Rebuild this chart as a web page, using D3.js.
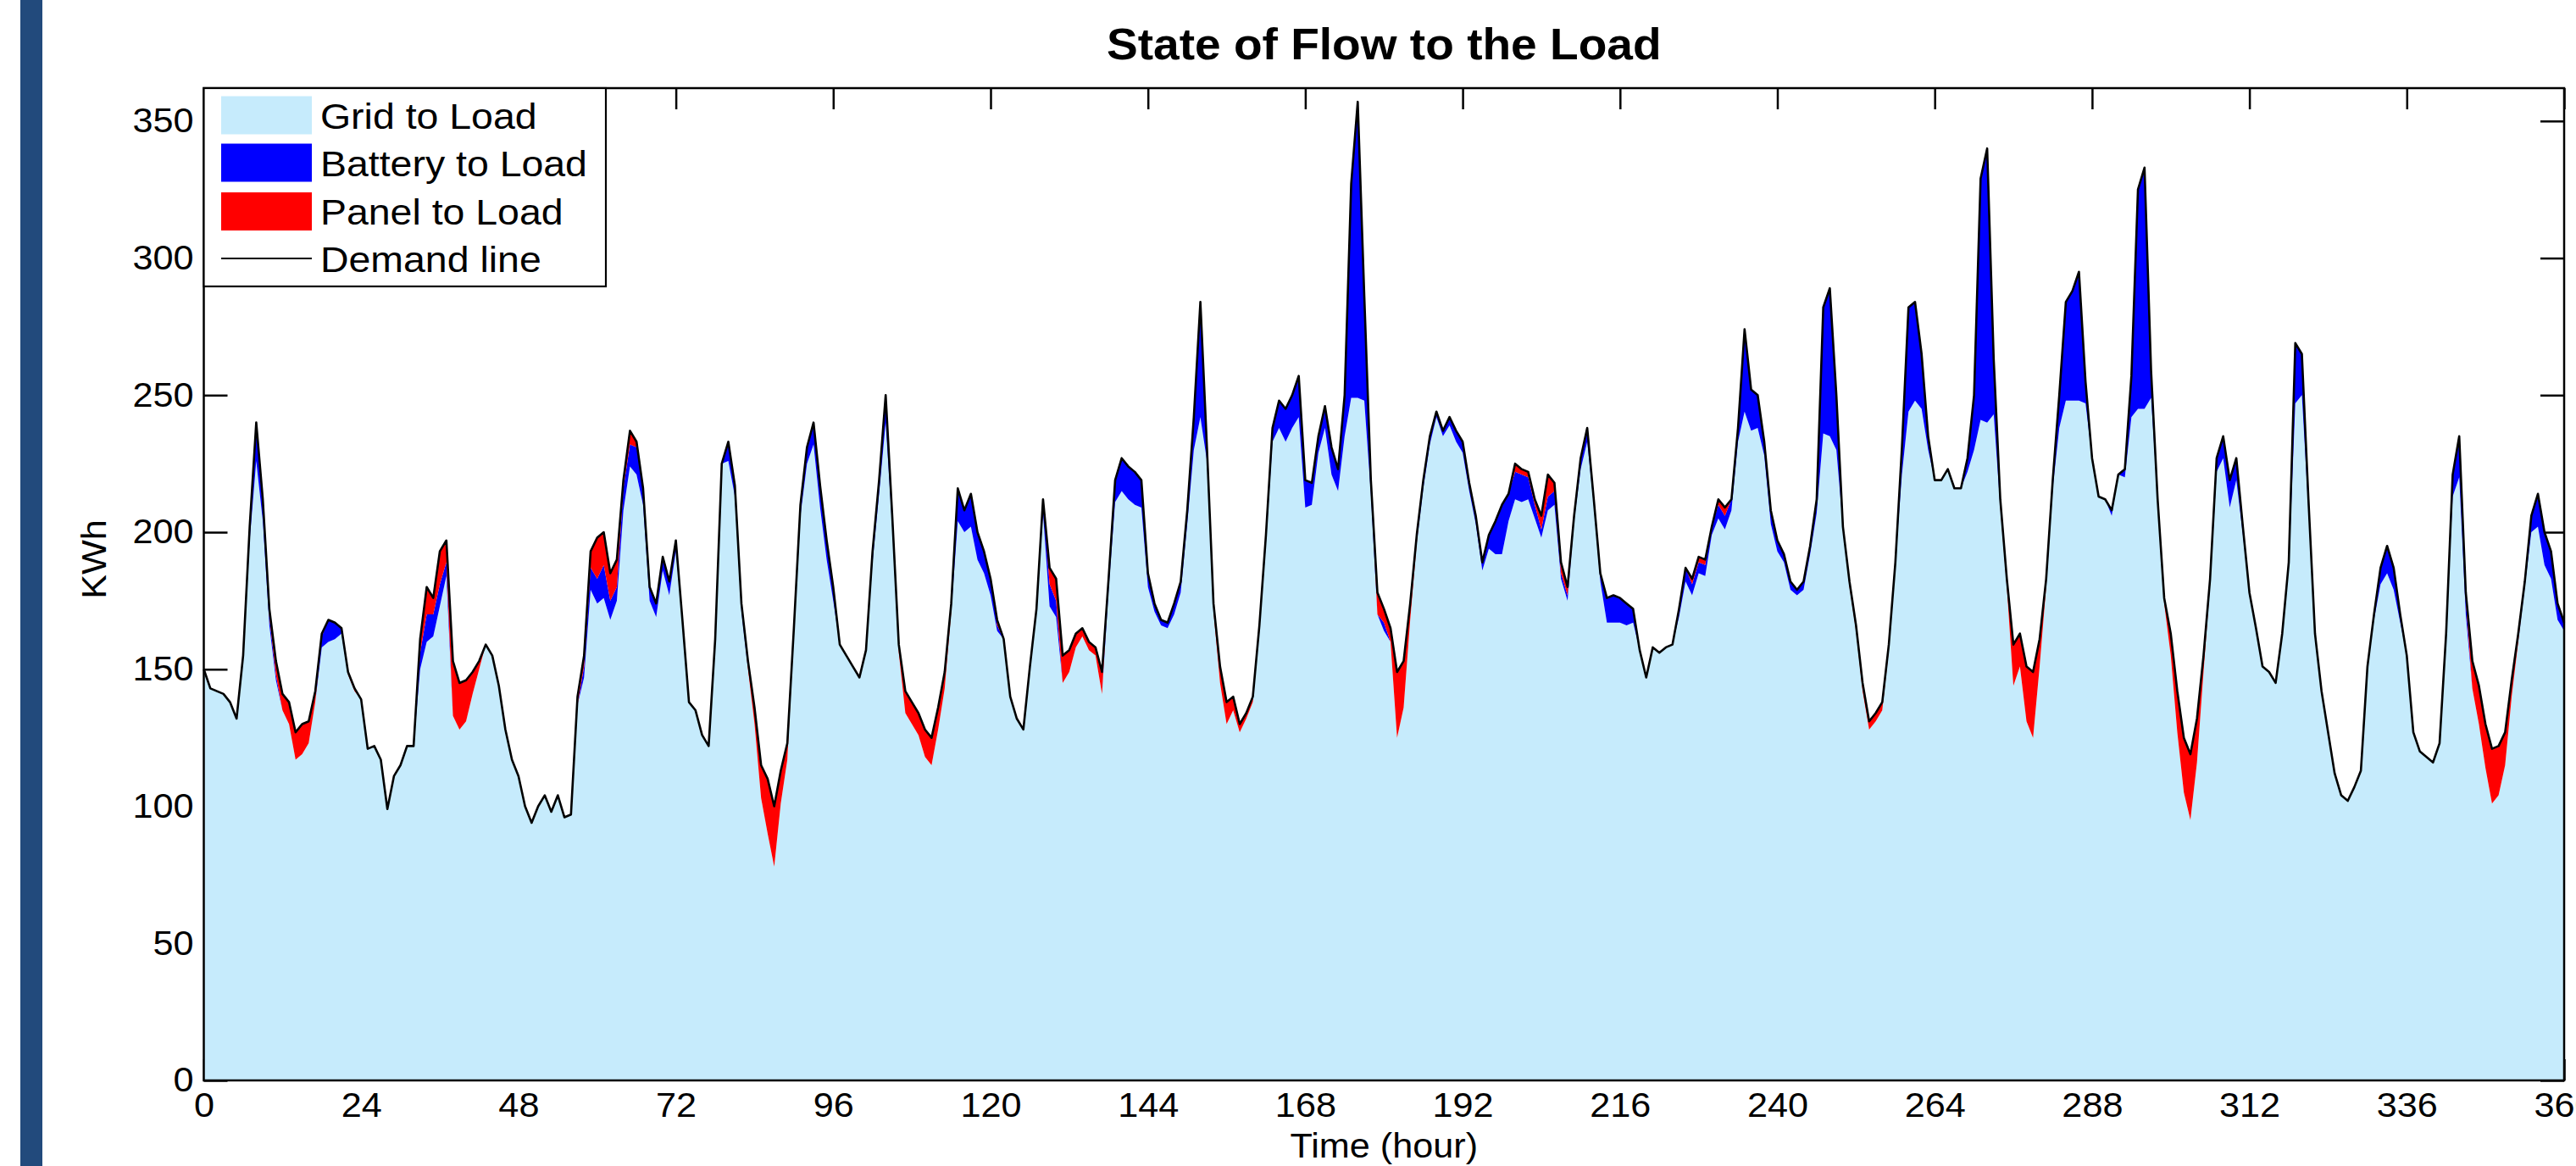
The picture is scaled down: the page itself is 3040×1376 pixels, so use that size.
<!DOCTYPE html>
<html>
<head>
<meta charset="utf-8">
<script src="https://cdn.jsdelivr.net/npm/d3@7"></script>
<style>
  body { margin: 0; background: #fff; }
  text { font-family: "Liberation Sans", Arial, Helvetica, sans-serif; fill: #000; }
</style>
</head>
<body>
<script>
// hourly demand (kWh), one row per day
var demand = [].concat(
  [150,143,142,141,138,132,155,202,240,212,172,153,141,138,127,130,131,142,163,168,167,165,149,143],
  [139,121,122,117,99,111,115,122,122,161,180,176,193,197,153,145,146,149,153,159,155,144,128,117],
  [111,100,94,100,104,98,104,96,97,140,155,193,198,200,185,190,219,237,233,216,180,174,191,182],
  [197,168,138,135,126,122,161,225,233,217,174,153,136,115,110,100,113,123,165,210,231,240,217,197],
  [180,159,155,151,147,157,193,219,250,206,159,142,138,134,128,125,136,149,174,216,208,214,200,193],
  [183,168,161,140,132,128,151,172,212,187,183,155,157,163,165,160,158,149,183,219,227,224,222,219],
  [185,174,168,167,174,182,208,242,284,231,174,151,138,140,130,134,140,166,199,238,248,245,250,257],
  [219,218,235,246,231,223,250,327,357,286,219,178,172,165,149,153,174,199,219,235,244,237,242,237],
  [233,218,206,189,199,204,210,214,225,223,222,212,206,221,218,189,180,206,227,238,212,185,176,177],
  [176,174,172,157,147,158,156,158,159,172,187,183,191,190,202,212,209,212,238,274,252,250,233,208],
  [197,192,182,179,182,195,212,282,289,250,202,182,166,145,131,134,138,159,189,231,282,284,265,235],
  [219,219,223,216,216,227,250,329,340,263,212,183,159,163,151,149,161,183,219,250,284,288,295,255],
  [227,213,212,208,221,223,257,325,333,259,212,176,163,142,125,119,132,155,183,227,235,219,227,202],
  [178,165,151,149,145,163,189,269,265,212,163,142,127,112,104,102,107,113,151,170,187,195,187,170],
  [155,127,120,118,116,123,163,221,235,178,153,144,130,121,122,127,146,163,182,206,214,200,193,174,167]
);

var battery = [].concat(
  [0,0,0,0,0,0,0,3,12,5,3,2,0,0,0,0,0,0,4,8,6,2,0,0],
  [0,0,0,0,0,0,0,0,0,6,10,8,8,5,0,0,0,0,0,0,0,0,0,0],
  [0,0,0,0,0,0,0,0,0,0,4,8,9,12,7,5,8,8,10,6,5,5,5,5],
  [4,0,0,0,0,0,0,0,6,4,3,0,0,0,0,0,0,0,0,4,6,8,8,7],
  [5,0,0,0,0,0,4,5,10,4,0,0,0,0,0,0,0,0,0,12,8,12,10,8],
  [6,2,0,0,0,0,0,0,5,8,6,0,0,0,0,0,0,0,4,8,12,12,12,10],
  [5,3,2,2,4,4,5,12,42,5,0,0,0,0,0,0,0,0,3,5,10,12,12,15],
  [10,8,6,8,10,8,15,78,108,38,5,0,3,0,0,0,0,0,3,3,2,2,3,4],
  [4,3,3,3,5,12,18,10,10,10,8,5,3,5,5,2,2,0,4,5,2,3,9,10],
  [9,8,5,0,0,0,0,0,0,3,5,4,4,4,3,5,5,4,5,30,15,12,5,5],
  [4,3,3,2,3,3,5,46,54,20,0,0,0,0,0,0,0,0,0,10,38,36,20,5],
  [0,0,0,0,0,5,20,88,100,20,0,0,0,0,0,0,0,0,3,12,36,40,47,8],
  [0,0,0,2,0,3,15,80,88,10,0,0,0,0,0,0,0,0,0,5,8,10,8,3],
  [0,0,0,0,0,0,2,22,15,4,0,0,0,0,0,0,0,0,0,2,6,10,8,3],
  [0,0,0,0,0,0,0,8,15,5,0,0,0,0,0,0,0,0,2,6,12,12,10,6,3]
);

var panel = [].concat(
  [0,0,0,0,0,0,0,2,2,3,3,5,6,8,10,11,8,4,1,0,0,0,1,1],
  [0,0,0,0,0,0,0,0,0,5,10,6,12,8,20,17,15,8,3,0,0,0,0,0],
  [0,0,0,0,0,0,0,0,0,3,4,6,15,12,10,10,3,5,2,0,0,0,0,0],
  [0,0,0,0,0,0,0,0,1,0,0,3,6,12,20,22,12,6,2,0,0,0,0,0],
  [0,0,0,0,0,0,0,0,0,0,3,8,8,8,10,10,8,6,3,0,0,0,0,0],
  [0,2,0,0,0,0,0,0,0,6,8,10,8,5,3,3,3,8,0,0,0,0,0,0],
  [0,0,0,0,0,0,0,0,0,0,3,6,8,5,3,2,2,2,0,0,0,0,0,0],
  [0,0,0,0,0,0,0,0,0,0,0,8,5,5,24,17,6,3,0,0,0,0,0,0],
  [0,0,0,0,0,0,0,0,3,2,2,2,5,8,3,4,3,2,0,0,0,0,0,0],
  [0,0,0,0,0,0,0,0,0,0,0,2,2,2,0,2,3,0,0,0,0,0,0,0],
  [0,0,0,0,0,0,0,0,0,0,0,2,2,3,3,3,3,2,0,0,0,0,0,0],
  [0,0,0,0,0,0,0,0,0,0,3,3,15,12,20,24,10,3,0,0,0,0,0,0],
  [0,0,0,0,0,0,0,0,0,0,0,2,8,15,20,24,16,6,2,0,0,0,0,0],
  [0,0,0,0,0,0,0,0,0,0,0,0,0,0,0,0,0,0,0,0,0,0,0,0],
  [0,0,0,0,0,0,0,0,0,3,10,14,16,20,18,12,6,3,0,0,0,0,0,0,0]
);

var xTicks = [0,24,48,72,96,120,144,168,192,216,240,264,288,312,336,360];
var yTicks = [0,50,100,150,200,250,300,350];
var seriesNames = ["Grid to Load", "Battery to Load", "Panel to Load", "Demand line"];
var seriesColors = ["#c6ebfc", "#0000ff", "#ff0000", "#000000"];

var W = 3040, H = 1376;
var plot = { left: 240.5, right: 3026, top: 104, bottom: 1275 };
var stretch = "scale(1.08,1)";

var svg = d3.select("body").append("svg")
  .attr("width", W)
  .attr("height", H);

// slide accent bar on the left
svg.append("rect")
  .attr("x", 24).attr("y", 0)
  .attr("width", 26).attr("height", H)
  .attr("fill", "#224a7c");

var xScale = d3.scaleLinear().domain([0, 360]).range([plot.left, plot.right]);
var yScale = d3.scaleLinear().domain([0, 362]).range([plot.bottom, plot.top]);

// grid = what is left after battery and panel
var table = demand.map(function(d, i) {
  return { hour: i, grid: d - battery[i] - panel[i], battery: battery[i], panel: panel[i] };
});

// ticks go under the patches (matlab layer bottom)
var axisFont = 40;
svg.append("g")
  .attr("transform", "translate(0," + plot.bottom + ")")
  .call(d3.axisBottom(xScale).tickValues(xTicks).tickSize(-25).tickPadding(15).tickFormat(d3.format("d")));
svg.append("g")
  .attr("transform", "translate(" + plot.left + ",0)")
  .call(d3.axisLeft(yScale).tickValues(yTicks).tickSize(-28).tickPadding(11));
svg.append("g")
  .attr("transform", "translate(0," + plot.top + ")")
  .call(d3.axisTop(xScale).tickValues(xTicks).tickSize(-25).tickFormat(""));
svg.append("g")
  .attr("transform", "translate(" + plot.right + ",0)")
  .call(d3.axisRight(yScale).tickValues(yTicks).tickSize(-28).tickFormat(""));

svg.selectAll(".domain").remove();
svg.selectAll(".tick line").attr("stroke", "#000").attr("stroke-width", 2.5);
svg.selectAll(".tick text")
  .style("font-size", axisFont + "px")
  .style("font-family", "'Liberation Sans', Arial, sans-serif")
  .attr("fill", "#000")
  .attr("transform", stretch);

var stack = d3.stack().keys(["grid", "battery", "panel"]);
var layers = stack(table);

var area = d3.area()
  .x(function(d) { return xScale(d.data.hour) })
  .y0(function(d) { return yScale(d[0]) })
  .y1(function(d) { return yScale(d[1]) });

svg.append("g").selectAll("path")
  .data(layers)
  .enter()
  .append("path")
  .attr("d", area)
  .attr("fill", function(d, i) { return seriesColors[i] });

var line = d3.line()
  .x(function(d, i) { return xScale(i) })
  .y(function(d) { return yScale(d) });

svg.append("path")
  .datum(demand)
  .attr("d", line)
  .attr("fill", "none")
  .attr("stroke", "#000")
  .attr("stroke-width", 2.6)
  .attr("stroke-linejoin", "round");

// box
svg.append("rect")
  .attr("x", plot.left).attr("y", plot.top)
  .attr("width", plot.right - plot.left)
  .attr("height", plot.bottom - plot.top)
  .attr("fill", "none")
  .attr("stroke", "#000")
  .attr("stroke-width", 2.5);

// titles
svg.append("text")
  .attr("transform", "translate(" + ((plot.left + plot.right) / 2) + ",70) " + stretch)
  .attr("text-anchor", "middle")
  .style("font-size", "51px")
  .style("font-weight", "bold")
  .text("State of Flow to the Load");

svg.append("text")
  .attr("transform", "translate(" + ((plot.left + plot.right) / 2) + ",1366) " + stretch)
  .attr("text-anchor", "middle")
  .style("font-size", axisFont + "px")
  .text("Time (hour)");

svg.append("text")
  .attr("transform", "translate(125,660) rotate(-90) " + stretch)
  .attr("text-anchor", "middle")
  .style("font-size", axisFont + "px")
  .text("KWh");

// legend
var legend = svg.append("g");
legend.append("rect")
  .attr("x", plot.left).attr("y", plot.top)
  .attr("width", 715 - plot.left).attr("height", 338 - plot.top)
  .attr("fill", "#fff")
  .attr("stroke", "#000")
  .attr("stroke-width", 2.2);

var rowY = [135.5, 191.5, 249, 305];
seriesNames.forEach(function(name, i) {
  if (i < 3) {
    legend.append("rect")
      .attr("x", 261).attr("y", rowY[i] - 22)
      .attr("width", 107).attr("height", 45)
      .attr("fill", seriesColors[i]);
  } else {
    legend.append("line")
      .attr("x1", 261).attr("x2", 368)
      .attr("y1", rowY[i]).attr("y2", rowY[i])
      .attr("stroke", "#000")
      .attr("stroke-width", 2);
  }
  legend.append("text")
    .attr("transform", "translate(378," + (rowY[i] + 16) + ") " + stretch)
    .style("font-size", "43px")
    .text(name);
});
</script>
</body>
</html>
